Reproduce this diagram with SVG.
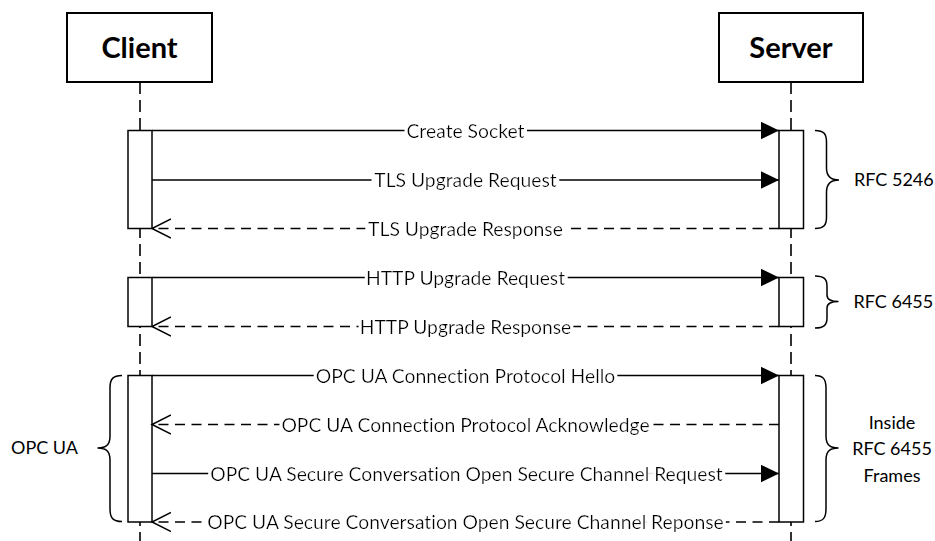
<svg xmlns="http://www.w3.org/2000/svg" width="935" height="541" viewBox="0 0 935 541">
<style>
.box{fill:#fff;stroke:#000;stroke-width:2}
.title{font-family:Lato,"Liberation Sans",sans-serif;font-weight:bold;font-size:29px;text-anchor:middle;fill:#000}
.life{stroke:#000;stroke-width:1.6;stroke-dasharray:12,6;fill:none}
.bar{fill:#fff;stroke:#000;stroke-width:1.5}
.msg{stroke:#000;stroke-width:1.5;fill:none}
.ret{stroke:#000;stroke-width:1.5;fill:none;stroke-dasharray:10,6.5}
.lbl{font-family:Lato,"Liberation Sans",sans-serif;font-size:19.3px;text-anchor:middle;fill:#000;filter:url(#bg);font-variant-ligatures:none}
.note{font-family:Lato,"Liberation Sans",sans-serif;font-size:18px;fill:#000}
.brace{fill:none;stroke:#000;stroke-width:1.5}
</style>
<defs>
<filter id="bg" x="-6%" y="-40%" width="112%" height="180%">
<feMorphology in="SourceAlpha" operator="dilate" radius="6 8" result="d"/>
<feMorphology in="d" operator="erode" radius="3 0" result="c"/>
<feFlood flood-color="#fff"/>
<feComposite in2="c" operator="in" result="w"/>
<feMerge><feMergeNode in="w"/><feMergeNode in="SourceGraphic"/></feMerge>
</filter>
<marker id="filled" markerUnits="userSpaceOnUse" markerWidth="20" markerHeight="20" refX="18" refY="8.7" orient="auto">
<path d="M0,0 L18,8.7 L0,17.4 Z" fill="#000" stroke="none"/>
</marker>
<marker id="open" markerUnits="userSpaceOnUse" markerWidth="22" markerHeight="22" refX="19" refY="10" orient="auto">
<path d="M0,0.5 L19,10 L0,19.5" fill="none" stroke="#000" stroke-width="1.5" stroke-dasharray="none"/>
</marker>
</defs>

<g id="lifelines">
<line class="life" x1="140" y1="82" x2="140" y2="541"/>
<line class="life" x1="791" y1="82" x2="791" y2="541"/>
</g>

<g id="client">
<rect class="box" x="67" y="13" width="145" height="69"/>
<text class="title" x="139.5" y="58">Client</text>
</g>
<g id="server">
<rect class="box" x="719" y="13" width="144" height="69"/>
<text class="title" x="791" y="58">Server</text>
</g>

<g id="activations">
<rect class="bar" x="128" y="130.5" width="24" height="98"/>
<rect class="bar" x="779" y="130.5" width="24.5" height="98"/>
<rect class="bar" x="128" y="277.5" width="24" height="49"/>
<rect class="bar" x="779" y="277.5" width="24.5" height="49"/>
<rect class="bar" x="128" y="375.5" width="24" height="146.5"/>
<rect class="bar" x="779" y="375.5" width="24.5" height="146.5"/>
</g>

<g id="connectors">
<line class="msg" x1="152" y1="130.5" x2="779" y2="130.5" marker-end="url(#filled)"/>
<line class="msg" x1="152" y1="180" x2="779" y2="180" marker-end="url(#filled)"/>
<line class="ret" x1="779" y1="228.5" x2="152" y2="228.5" marker-end="url(#open)"/>
<line class="msg" x1="152" y1="277.5" x2="779" y2="277.5" marker-end="url(#filled)"/>
<line class="ret" x1="779" y1="326.5" x2="152" y2="326.5" marker-end="url(#open)"/>
<line class="msg" x1="152" y1="375.5" x2="779" y2="375.5" marker-end="url(#filled)"/>
<line class="ret" x1="779" y1="424.5" x2="152" y2="424.5" marker-end="url(#open)"/>
<line class="msg" x1="152" y1="473.5" x2="779" y2="473.5" marker-end="url(#filled)"/>
<line class="ret" x1="779" y1="522" x2="152" y2="522" marker-end="url(#open)"/>
</g>

<g id="labels">
<text class="lbl" x="465.5" y="137.5">Create Socket</text>
<text class="lbl" x="465.5" y="187">TLS Upgrade Request</text>
<text class="lbl" x="465.5" y="235.5">TLS Upgrade Response</text>
<text class="lbl" x="465.5" y="284.5">HTTP Upgrade Request</text>
<text class="lbl" x="465.5" y="333.5">HTTP Upgrade Response</text>
<text class="lbl" x="465.5" y="382.5">OPC UA Connection Protocol Hello</text>
<text class="lbl" x="465.5" y="431.5">OPC UA Connection Protocol Acknowledge</text>
<text class="lbl" x="466.5" y="480.5">OPC UA Secure Conversation Open Secure Channel Request</text>
<text class="lbl" x="465.5" y="529">OPC UA Secure Conversation Open Secure Channel Reponse</text>
</g>

<g id="brace-rfc5246">
<path class="brace" d="M815,130.5 C824,130.5 826.5,134 826.5,142 L826.5,168 C826.5,176 830,180 839,180 C830,180 826.5,184 826.5,192 L826.5,217 C826.5,225 824,228.5 815,228.5"/>
<text class="note" x="854" y="186">RFC 5246</text>
</g>
<g id="brace-rfc6455">
<path class="brace" d="M815,276 C824,276 827,279 827,286 L827,295 C827,299 830,301.5 838.5,301.5 C830,301.5 827,304 827,308 L827,318 C827,325 824,328 815,328"/>
<text class="note" x="853.5" y="308">RFC 6455</text>
</g>
<g id="brace-frames">
<path class="brace" d="M815,375.5 C823,375.5 826,379 826,388 L826,436 C826,444 829,448 838.5,448 C829,448 826,452 826,460 L826,509 C826,518 823,521.5 815,521.5"/>
<text class="note" x="892" y="429" text-anchor="middle">Inside</text>
<text class="note" x="892" y="455" text-anchor="middle">RFC 6455</text>
<text class="note" x="892" y="481.5" text-anchor="middle">Frames</text>
</g>
<g id="brace-opcua">
<path class="brace" d="M122,375.5 C113,375.5 110,379 110,388 L110,436 C110,444 107,448 97.5,448 C107,448 110,452 110,460 L110,509 C110,518 113,521.5 122,521.5"/>
<text class="note" x="11" y="454">OPC UA</text>
</g>
</svg>
